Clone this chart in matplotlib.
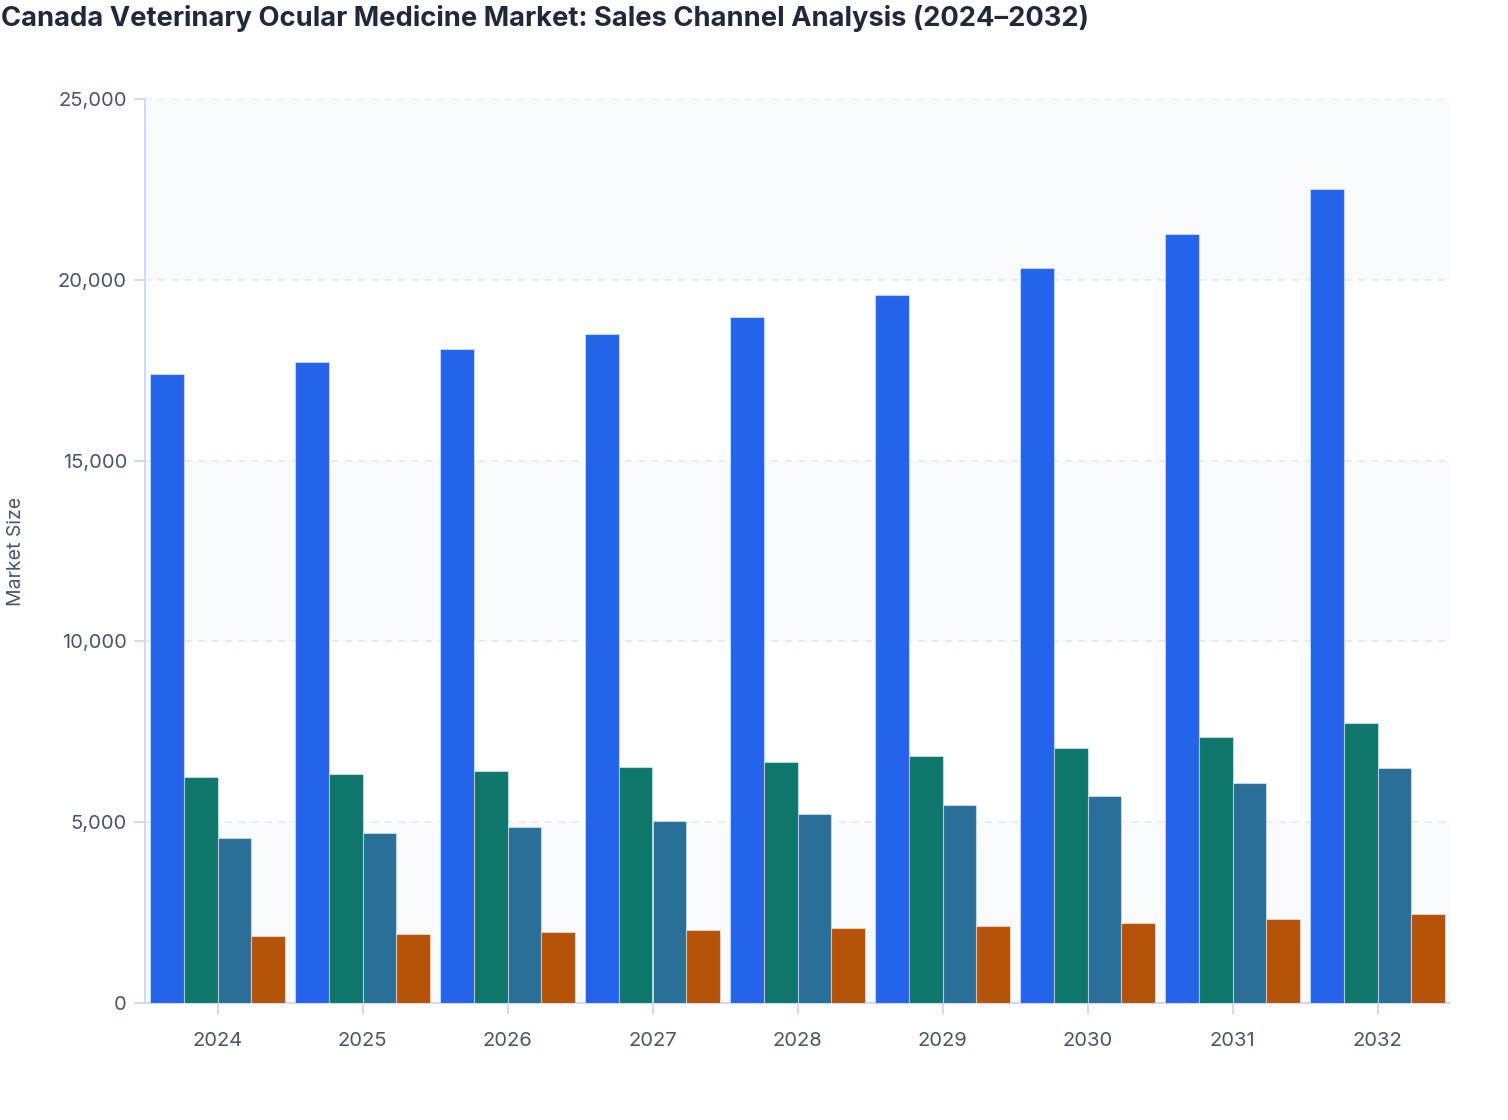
import matplotlib
matplotlib.use("Agg")
import matplotlib.pyplot as plt
import numpy as np
from matplotlib.ticker import FuncFormatter

years = ["2024", "2025", "2026", "2027", "2028", "2029", "2030", "2031", "2032"]
channel_a = [17400, 17730, 18090, 18500, 18970, 19580, 20330, 21270, 22510]
channel_b = [6250, 6330, 6420, 6530, 6660, 6830, 7050, 7360, 7740]
channel_c = [4560, 4700, 4870, 5030, 5230, 5480, 5720, 6080, 6500]
channel_d = [1850, 1910, 1960, 2020, 2070, 2130, 2210, 2320, 2460]
series = [channel_a, channel_b, channel_c, channel_d]
colors = ["#2563eb", "#0f766e", "#2a6f97", "#b45309"]
y_ticks = [0, 5000, 10000, 15000, 20000, 25000]

plt.rcParams['font.family'] = ['Inter', 'DejaVu Sans']

fig = plt.figure(figsize=(15.08, 11.2), dpi=100)
ax = fig.add_axes([145/1508, 1-1003/1120, (1450-145)/1508, (1003-99)/1120])

x = np.arange(len(years))
bw = 0.234
n = len(series)
for i, (vals, c) in enumerate(zip(series, colors)):
    ax.bar(x + (i - (n-1)/2) * bw, vals, width=bw, color=c,
           edgecolor=(1, 1, 1, 0.45), linewidth=0.8, zorder=3)

ax.set_xlim(-0.5, len(years) - 0.5)
ax.set_ylim(0, 25000)

# alternating bands
for k in range(0, len(y_ticks) - 1):
    if k % 2 == 0:
        ax.axhspan(y_ticks[k], y_ticks[k+1], color="#f8fafc", zorder=0, lw=0)

ax.set_yticks(y_ticks)
ax.yaxis.set_major_formatter(FuncFormatter(lambda v, p: f"{int(v):,}"))
ax.set_xticks(x)
ax.set_xticklabels(years)
ax.grid(axis='y', color="#e2e8f0", linestyle=(0, (4, 4)), linewidth=1.2, zorder=1)
ax.set_axisbelow(True)

for s in ["top", "right"]:
    ax.spines[s].set_visible(False)
for s in ["left", "bottom"]:
    ax.spines[s].set_color("#c7d2fe")
    ax.spines[s].set_linewidth(1.2)

ax.tick_params(axis='both', colors="#c7d2fe", labelcolor="#475569", labelsize=14.5, width=1.2)
ax.tick_params(axis='y', length=8, pad=5)
ax.tick_params(axis='x', length=8, pad=13)

ax.set_ylabel("Market Size", color="#475569", fontsize=14, labelpad=0)
ax.yaxis.set_label_coords(-(145-25)/1305, 0.5)

fig.text(1/1508, 1-18/1120, "Canada Veterinary Ocular Medicine Market: Sales Channel Analysis (2024\u20132032)",
         ha="left", va="center", fontsize=19.7, fontweight="bold", color="#1e293b")

fig.savefig("out.png", dpi=100)
